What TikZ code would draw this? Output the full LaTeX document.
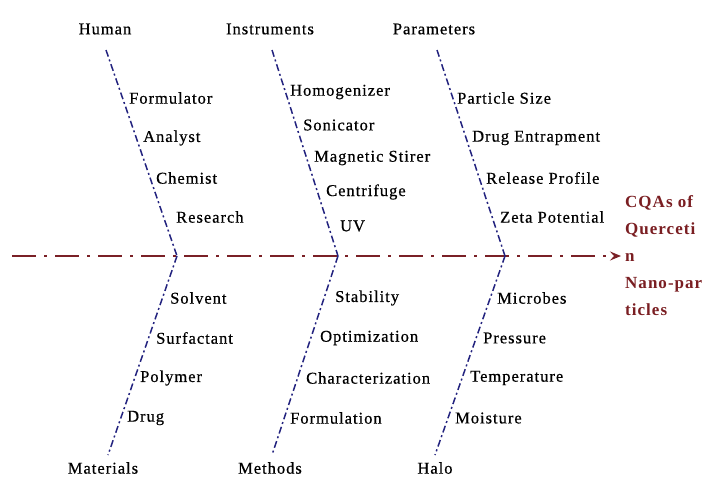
\documentclass[tikz,border=0pt]{standalone}
\usepackage{fontspec}
\setmainfont{Liberation Serif}[LetterSpace=6, UprightFeatures={FakeBold=0.6}]
\usetikzlibrary{arrows.meta}
\definecolor{spinered}{HTML}{7A2026}
\definecolor{bonenavy}{HTML}{23237F}
\definecolor{cqared}{HTML}{7A1E22}
\tikzset{
  spine/.style={draw=spinered, line width=1.8pt, dash pattern=on 24pt off 8pt on 3pt off 8pt, -{Stealth[length=11pt,width=9pt,inset=4pt]}, shorten >=4pt},
  bone/.style={draw=bonenavy, line width=1.5pt, dash pattern=on 7pt off 3pt on 2pt off 3pt},
  item/.style={anchor=west, inner sep=0pt, font=\fontsize{16.5}{18}\selectfont},
  cat/.style={inner sep=0pt, font=\fontsize{16.5}{18}\selectfont},
  cqa/.style={anchor=west, inner sep=0pt, align=left, text=cqared, font=\fontsize{17}{27}\selectfont\bfseries}
}
\begin{document}
\begin{tikzpicture}[x=1pt,y=-1pt]
\useasboundingbox (0,0) rectangle (708,482);
% coordinates of bones
\coordinate (s0) at (12,256);
\coordinate (hT) at (106,50);  \coordinate (hJ) at (177,256);
\coordinate (iT) at (272,50);  \coordinate (iJ) at (338,256);
\coordinate (pT) at (437,50);  \coordinate (pJ) at (505,256);
\coordinate (mB) at (108,455);
\coordinate (eB) at (272,455);
\coordinate (lB) at (435,455);
% category labels
\node[cat] (human) at (105,29) {Human};
\node[cat] (instr) at (270,29) {Instruments};
\node[cat] (param) at (434,29) {Parameters};
\node[cat] (mat) at (103,468) {Materials};
\node[cat] (meth) at (270,468) {Methods};
\node[cat] (halo) at (435,468) {Halo};
% head
\node[cqa] (cqa) at (625,256) {CQAs of\\Querceti\\n\\Nano-par\\ticles};
% spine
\draw[spine] (s0) -- (cqa.west);
% bones
\draw[bone] (hT) -- (hJ);
\draw[bone] (iT) -- (iJ);
\draw[bone] (pT) -- (pJ);
\draw[bone] (hJ) -- (mB);
\draw[bone] (iJ) -- (eB);
\draw[bone] (pJ) -- (lB);
% Human items
\node[item] (h1) at (129,98) {Formulator};
\node[item] (h2) at (143,138) {Analyst};
\node[item] (h3) at (156,178) {Chemist};
\node[item] (h4) at (176,217) {Research};
% Instruments items
\node[item] (i1) at (290,92) {Homogenizer};
\node[item] (i2) at (303,125) {Sonicator};
\node[item] (i3) at (314,158) {Magnetic Stirer};
\node[item] (i4) at (326,192) {Centrifuge};
\node[item] (i5) at (340,226) {UV};
% Parameters items
\node[item] (p1) at (457,98) {Particle Size};
\node[item] (p2) at (472,138) {Drug Entrapment};
\node[item] (p3) at (486,178) {Release Profile};
\node[item] (p4) at (500,217) {Zeta Potential};
% Materials items
\node[item] (m1) at (170,298) {Solvent};
\node[item] (m2) at (156,338) {Surfactant};
\node[item] (m3) at (140,378) {Polymer};
\node[item] (m4) at (127,418) {Drug};
% Methods items
\node[item] (e1) at (335,298) {Stability};
\node[item] (e2) at (320,338) {Optimization};
\node[item] (e3) at (306,378) {Characterization};
\node[item] (e4) at (290,418) {Formulation};
% Halo items
\node[item] (l1) at (497,298) {Microbes};
\node[item] (l2) at (483,338) {Pressure};
\node[item] (l3) at (470,378) {Temperature};
\node[item] (l4) at (455,418) {Moisture};
\end{tikzpicture}
\end{document}
